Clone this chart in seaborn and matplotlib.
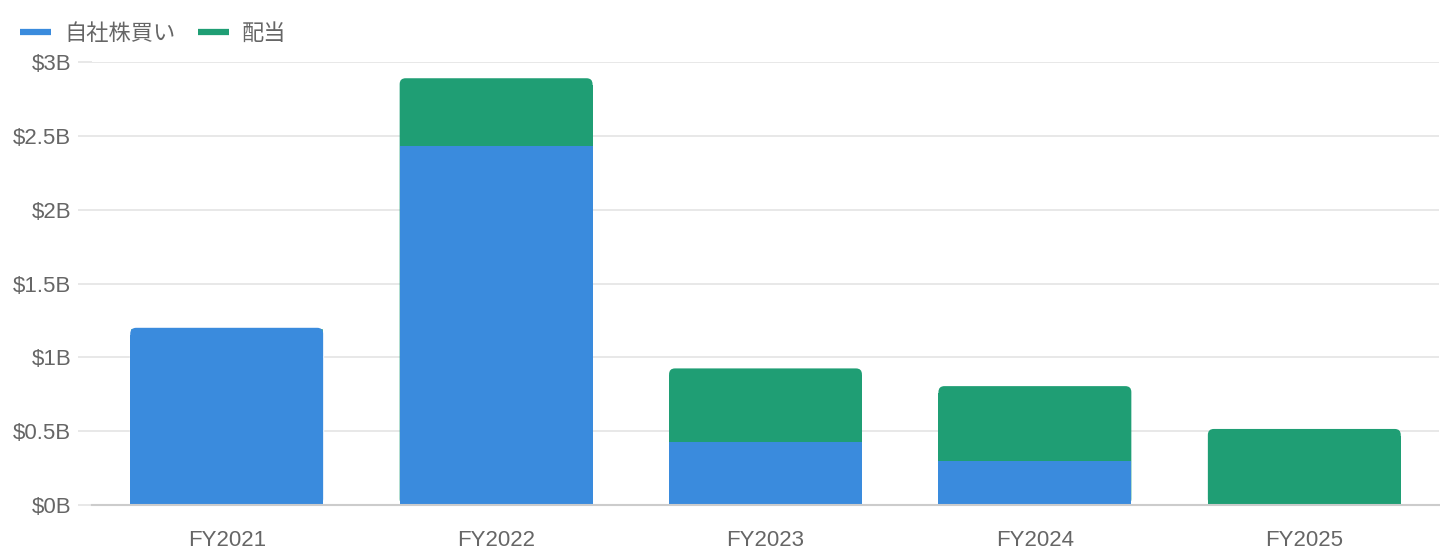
import matplotlib
matplotlib.use("Agg")
import matplotlib.pyplot as plt
import seaborn as sns
import pandas as pd
from matplotlib.patches import FancyBboxPatch, Rectangle
from matplotlib.lines import Line2D
from matplotlib.ticker import FuncFormatter

years = ["FY2021", "FY2022", "FY2023", "FY2024", "FY2025"]
buyback = [1.20, 2.43, 0.43, 0.30, 0.0]
dividend = [0.0, 0.46, 0.495, 0.505, 0.515]
series_names = ["自社株買い", "配当"]
colors = ["#3a8bdd", "#1f9e74"]
yticks = [0, 0.5, 1, 1.5, 2, 2.5, 3]

sns.set_style("white")
plt.rcParams["font.family"] = ["Liberation Sans", "Noto Sans CJK JP", "DejaVu Sans"]

df = pd.DataFrame({"year": years, "buyback": buyback, "dividend": dividend})
df["total"] = df["buyback"] + df["dividend"]

fig = plt.figure(figsize=(14.4, 5.6), dpi=100)
ax = fig.add_axes([92 / 1440, 1 - 505 / 560, 1347 / 1440, 443 / 560])

W = 0.716
sns.barplot(data=df, x="year", y="total", color=colors[1], width=W, ax=ax,
            saturation=1, errorbar=None, zorder=2)
n = len(ax.patches)
sns.barplot(data=df, x="year", y="buyback", color=colors[0], width=W, ax=ax,
            saturation=1, errorbar=None, zorder=3)

ax.set_ylim(0, 3)
ax.set_xlim(-0.5, len(years) - 0.5)

# rounded top corners for top segment of each stack
rx = 0.022
ry = 0.04
green = ax.patches[:n]
blue = ax.patches[n:2 * n]
for i in range(n):
    top = green[i] if dividend[i] > 0 else blue[i]
    if top.get_height() <= 0:
        continue
    x, y = top.get_x(), top.get_y()
    w, h = top.get_width(), top.get_height()
    fc = top.get_facecolor()
    z = top.get_zorder()
    top.set_visible(False)
    rr = FancyBboxPatch((x, y), w, h,
                        boxstyle=f"round,pad=0,rounding_size={rx}",
                        mutation_aspect=ry / rx, fc=fc, ec="none", zorder=z)
    ax.add_patch(rr)
    ax.add_patch(Rectangle((x, y), w, h - ry * 1.2, fc=fc, ec="none", zorder=z))
for p in blue:
    p.set_edgecolor("none")

ax.set_yticks(yticks)
ax.yaxis.set_major_formatter(FuncFormatter(lambda v, _: f"${v:g}B"))
ax.grid(axis="y", color="#e8e8e8", lw=1.4, zorder=0)
ax.set_axisbelow(True)
ax.tick_params(axis="y", left=True, length=10, width=1.4, color="#e8e8e8", pad=5,
               labelsize=16, labelcolor="#666666")
ax.tick_params(axis="x", length=0, pad=18, labelsize=16, labelcolor="#666666")
ax.set_xlabel("")
ax.set_ylabel("")
for s in ["top", "right", "left"]:
    ax.spines[s].set_visible(False)
ax.spines["bottom"].set_color("#cccccc")
ax.spines["bottom"].set_linewidth(1.5)
ax.spines["bottom"].set_zorder(4)

handles = [Line2D([], [], color=c, lw=4.5, solid_capstyle="butt") for c in colors]
fig.legend(handles, series_names, loc="upper left", bbox_to_anchor=(0.003, 0.985),
           frameon=False, ncol=2, fontsize=16, labelcolor="#666666",
           handlelength=1.4, handletextpad=0.6, columnspacing=1.0,
           borderaxespad=0.3)

fig.savefig("out.png", dpi=100)
